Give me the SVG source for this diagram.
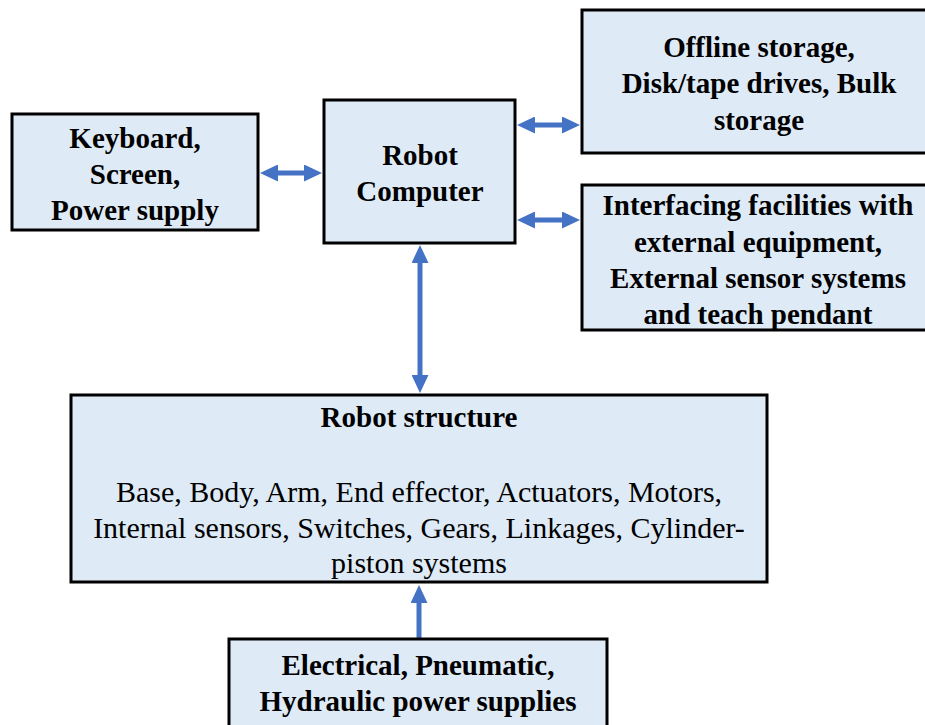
<svg xmlns="http://www.w3.org/2000/svg" width="925" height="725" viewBox="0 0 925 725">
<style>
.box{fill:#DEEAF6;stroke:#000;stroke-width:3}
.b{font-weight:bold;font-size:29px;text-anchor:middle;fill:#000}
.r{font-size:30px;text-anchor:middle;fill:#000}
.c{stroke:#4472C4;stroke-width:5;fill:none}
</style>
<defs>
<marker id="ah" viewBox="0 0 18 17" refX="4" refY="8.5" markerWidth="18" markerHeight="17" markerUnits="userSpaceOnUse" orient="auto-start-reverse">
<path d="M0,0 L18,8.5 L0,17 z" fill="#4472C4"/>
</marker>
</defs>
<rect width="925" height="725" fill="#fff"/>
<g id="connectors">
<line class="c" x1="274" y1="173" x2="308" y2="173" marker-start="url(#ah)" marker-end="url(#ah)"/>
<line class="c" x1="531" y1="125" x2="566" y2="125" marker-start="url(#ah)" marker-end="url(#ah)"/>
<line class="c" x1="531" y1="220" x2="566" y2="220" marker-start="url(#ah)" marker-end="url(#ah)"/>
<line class="c" x1="420" y1="259" x2="420" y2="379" marker-start="url(#ah)" marker-end="url(#ah)"/>
<line class="c" x1="419" y1="639" x2="419" y2="599" marker-end="url(#ah)"/>
</g>
<g font-family="'Liberation Serif', Tinos, 'Times New Roman', 'DejaVu Serif', serif">
<g id="keyboard">
<rect class="box" x="12" y="114" width="246" height="116"/>
<text class="b" x="135" y="148">Keyboard,</text>
<text class="b" x="135" y="184">Screen,</text>
<text class="b" x="135" y="220">Power supply</text>
</g>
<g id="computer">
<rect class="box" x="324" y="100" width="191" height="143"/>
<text class="b" x="420" y="165">Robot</text>
<text class="b" x="420" y="201">Computer</text>
</g>
<g id="offline">
<rect class="box" x="582" y="10" width="360" height="143"/>
<text class="b" x="759" y="57">Offline storage,</text>
<text class="b" x="759" y="93">Disk/tape drives, Bulk</text>
<text class="b" x="759" y="130">storage</text>
</g>
<g id="interfacing">
<rect class="box" x="582" y="185" width="360" height="145"/>
<text class="b" x="758" y="215">Interfacing facilities with</text>
<text class="b" x="758" y="252">external equipment,</text>
<text class="b" x="758" y="288">External sensor systems</text>
<text class="b" x="758" y="324">and teach pendant</text>
</g>
<g id="structure">
<rect class="box" x="71" y="395" width="696" height="187"/>
<text class="b" x="419" y="427">Robot structure</text>
<text class="r" x="419" y="502">Base, Body, Arm, End effector, Actuators, Motors,</text>
<text class="r" x="419" y="538">Internal sensors, Switches, Gears, Linkages, Cylinder-</text>
<text class="r" x="419" y="573">piston systems</text>
</g>
<g id="power">
<rect class="box" x="229" y="639" width="378" height="100"/>
<text class="b" x="418" y="675">Electrical, Pneumatic,</text>
<text class="b" x="418" y="711">Hydraulic power supplies</text>
</g>
</g>
</svg>
